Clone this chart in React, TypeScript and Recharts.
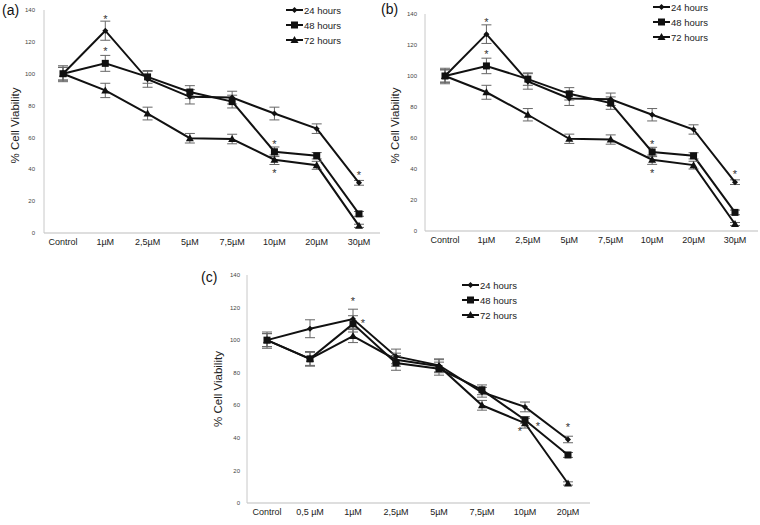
import React from "react";
import {
  LineChart,
  Line,
  XAxis,
  YAxis,
  ErrorBar,
  LabelList,
} from "recharts";

// panels (a) and (b) show the same data
const catsAB = ["Control", "1µM", "2,5µM", "5µM", "7,5µM", "10µM", "20µM", "30µM"];
const ab24 = [100, 127, 96.5, 85.5, 85, 75, 65.5, 31.5];
const ab48 = [100, 106.5, 98, 88.5, 82.5, 51, 48.5, 12];
const ab72 = [100, 89.5, 75, 59.5, 59, 46, 42.5, 4.5];
const abErr24 = [5, 6, 5, 4.5, 4, 4, 3, 1.5];
const abErr48 = [4, 5, 4, 4, 4, 3, 2, 1.5];
const abErr72 = [4, 4.5, 4, 3, 3, 3, 2.5, 1];
const abStar24 = ["", "upMid", "", "", "", "", "", "up"];
const abStar48 = ["", "upMid", "", "", "", "up", "", ""];
const abStar72 = ["", "", "", "", "", "down", "", ""];

// panel (c)
const catsC = ["Control", "0,5 µM", "1µM", "2,5µM", "5µM", "7,5µM", "10µM", "20µM"];
const c24 = [100, 107, 113, 90, 84.5, 68, 59, 39];
const c48 = [100, 88.5, 110, 86, 82.5, 69.5, 51, 29.5];
const c72 = [100, 88.5, 102.5, 88, 84, 60, 49, 12];
const cErr24 = [5, 5.5, 6, 4.5, 4, 3, 3, 2];
const cErr48 = [4, 4.5, 5, 4.5, 4, 3, 2, 1.5];
const cErr72 = [4, 4, 4, 4, 4, 3, 3, 1];
const cStar24 = ["", "", "upHigh", "", "", "", "", "upMid"];
const cStar48 = ["", "", "right", "", "", "", "rightLow", ""];
const cStar72 = ["", "", "", "", "", "", "downLeft", ""];

const seriesNames = ["24 hours", "48 hours", "72 hours"];
const yTicks = [0, 20, 40, 60, 80, 100, 120, 140];

const FONT = '"Liberation Sans", Arial, sans-serif';
const INK = "#111";

const starOffsets: Record<string, [number, number]> = {
  up: [0, -10],
  upMid: [0, -14],
  upHigh: [0, -20],
  down: [0, 11],
  right: [10, -3],
  rightLow: [13, 4],
  downLeft: [-5, 6],
};

function buildRows(
  cats: string[],
  v: number[][],
  e: number[][],
  s: string[][]
) {
  return cats.map((cat, i) => ({
    cat,
    v24: v[0][i],
    v48: v[1][i],
    v72: v[2][i],
    e24: e[0][i],
    e48: e[1][i],
    e72: e[2][i],
    s24: s[0][i],
    s48: s[1][i],
    s72: s[2][i],
  }));
}

const rowsAB = buildRows(
  catsAB,
  [ab24, ab48, ab72],
  [abErr24, abErr48, abErr72],
  [abStar24, abStar48, abStar72]
);
const rowsC = buildRows(
  catsC,
  [c24, c48, c72],
  [cErr24, cErr48, cErr72],
  [cStar24, cStar48, cStar72]
);

function Marker({ kind, cx, cy }: { kind: number; cx: number; cy: number }) {
  if (kind === 0) {
    const r = 3;
    return (
      <path
        d={`M${cx},${cy - r}L${cx + r},${cy}L${cx},${cy + r}L${cx - r},${cy}Z`}
        fill={INK}
      />
    );
  }
  if (kind === 1) {
    return <rect x={cx - 3.5} y={cy - 3.5} width={7} height={7} fill={INK} />;
  }
  return (
    <path
      d={`M${cx},${cy - 4}L${cx + 4},${cy + 3}L${cx - 4},${cy + 3}Z`}
      fill={INK}
    />
  );
}

const makeDot = (kind: number) => (p: any) => {
  if (p.cx == null || p.cy == null) return <g key={p.index} />;
  return <Marker key={`${kind}-${p.index}`} kind={kind} cx={p.cx} cy={p.cy} />;
};

const renderStar = (p: any) => {
  const off = starOffsets[p.value];
  if (!off) return null;
  return (
    <text
      x={p.x + off[0]}
      y={p.y + off[1] + 6}
      textAnchor="middle"
      fontSize={11}
      fontFamily={FONT}
      fill="#333"
    >
      *
    </text>
  );
};

type Layout = {
  left: number;
  top: number;
  width: number;
  height: number;
  margin: { top: number; right: number; bottom: number; left: number };
  xPad: { left: number; right: number };
  yWidth: number;
  yTickMargin: number;
  yLabelX: number;
  yLabelDy: number;
  legendLeft: number;
  legendTop: number;
  tag: string;
  tagLeft: number;
  tagTop: number;
  tagSize: number;
};

const YLabel = (props: any) => {
  const vb = props.viewBox || { x: 0, y: 0, width: 0, height: 0 };
  const cx = props.lx;
  const cy = vb.y + vb.height / 2 + props.ldy;
  return (
    <text
      x={cx}
      y={cy}
      transform={`rotate(-90 ${cx} ${cy})`}
      textAnchor="middle"
      dominantBaseline="central"
      fontSize={11.5}
      fontFamily={FONT}
      fill="#222"
    >
      % Cell Viability
    </text>
  );
};

function Legend({ left, top }: { left: number; top: number }) {
  return (
    <svg
      width={100}
      height={48}
      style={{ position: "absolute", left, top, overflow: "visible" }}
    >
      {seriesNames.map((name, i) => {
        const y = 6 + i * 15;
        return (
          <g key={name}>
            <line x1={0} x2={17} y1={y} y2={y} stroke={INK} strokeWidth={2} />
            <Marker kind={i} cx={8.5} cy={y} />
            <text
              x={18}
              y={y}
              dominantBaseline="central"
              fontSize={9.5}
              fontFamily={FONT}
              fill="#222"
            >
              {name}
            </text>
          </g>
        );
      })}
    </svg>
  );
}

function Panel({ rows, layout }: { rows: any[]; layout: Layout }) {
  const keys = ["24", "48", "72"];
  return (
    <div
      style={{
        position: "absolute",
        left: layout.left,
        top: layout.top,
        width: layout.width,
        height: layout.height,
      }}
    >
      <LineChart
        width={layout.width}
        height={layout.height}
        data={rows}
        margin={layout.margin}
      >
        <XAxis
          dataKey="cat"
          axisLine={{ stroke: "#bdbdbd" }}
          tickLine={false}
          tickSize={0}
          tickMargin={6}
          height={20}
          interval={0}
          padding={layout.xPad}
          tick={{ fontSize: 9, fontFamily: FONT, fill: "#222" }}
        />
        <YAxis
          domain={[0, 140]}
          ticks={yTicks}
          width={layout.yWidth}
          axisLine={{ stroke: "#c8c8c8" }}
          tickLine={false}
          tickSize={0}
          tickMargin={layout.yTickMargin}
          tick={{ fontSize: 6, fontFamily: FONT, fill: "#444" }}
          label={<YLabel lx={layout.yLabelX} ldy={layout.yLabelDy} />}
        />
        {keys.map((k, i) => (
          <Line
            key={k}
            dataKey={`v${k}`}
            stroke={INK}
            strokeWidth={2}
            dot={makeDot(i)}
            activeDot={false}
            isAnimationActive={false}
          >
            <ErrorBar
              dataKey={`e${k}`}
              width={5}
              strokeWidth={1}
              stroke="#666"
              direction="y"
            />
            <LabelList dataKey={`s${k}`} content={renderStar} />
          </Line>
        ))}
      </LineChart>
      <Legend left={layout.legendLeft} top={layout.legendTop} />
      <div
        style={{
          position: "absolute",
          left: layout.tagLeft,
          top: layout.tagTop,
          fontSize: layout.tagSize,
          lineHeight: 1,
          fontFamily: FONT,
          color: "#111",
        }}
      >
        {layout.tag}
      </div>
    </div>
  );
}

const layoutA: Layout = {
  left: 0,
  top: 0,
  width: 380,
  height: 260,
  margin: { top: 10, right: 0, bottom: 7, left: 0 },
  xPad: { left: 19, right: 21 },
  yWidth: 44,
  yTickMargin: 9,
  yLabelX: 15,
  yLabelDy: 4,
  legendLeft: 286,
  legendTop: 4,
  tag: "(a)",
  tagLeft: 2,
  tagTop: 3,
  tagSize: 14,
};

const layoutB: Layout = {
  left: 380,
  top: 0,
  width: 380,
  height: 260,
  margin: { top: 14, right: 2, bottom: 9, left: 0 },
  xPad: { left: 20, right: 23 },
  yWidth: 45,
  yTickMargin: 8,
  yLabelX: 15,
  yLabelDy: 3,
  legendLeft: 273,
  legendTop: 1,
  tag: "(b)",
  tagLeft: 1,
  tagTop: 2,
  tagSize: 14,
};

const layoutC: Layout = {
  left: 190,
  top: 260,
  width: 400,
  height: 265,
  margin: { top: 15, right: 0, bottom: 2, left: 0 },
  xPad: { left: 20, right: 22 },
  yWidth: 57,
  yTickMargin: 7,
  yLabelX: 28,
  yLabelDy: 0,
  legendLeft: 272,
  legendTop: 19,
  tag: "(c)",
  tagLeft: 11,
  tagTop: 10,
  tagSize: 14,
};

export default function App() {
  return (
    <div
      style={{
        position: "absolute",
        left: 0,
        top: 0,
        width: 760,
        height: 525,
        background: "#fff",
        overflow: "hidden",
      }}
    >
      <Panel rows={rowsAB} layout={layoutA} />
      <Panel rows={rowsAB} layout={layoutB} />
      <Panel rows={rowsC} layout={layoutC} />
    </div>
  );
}
